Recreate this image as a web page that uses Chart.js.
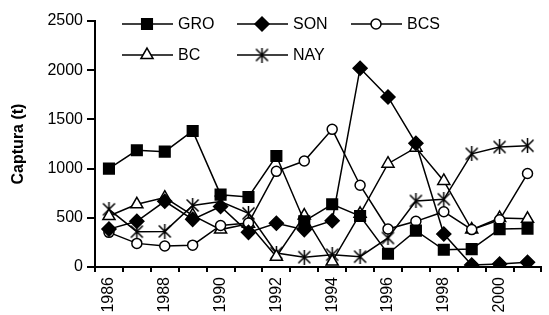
<!DOCTYPE html>
<html>
<head>
<meta charset="utf-8">
<script src="https://cdn.jsdelivr.net/npm/chart.js@4/dist/chart.umd.min.js"></script>
<style>
  html, body { margin: 0; padding: 0; background: #fff; overflow: hidden; }
  #wrap { position: absolute; left: 0; top: 0; width: 552px; height: 335px; }
</style>
</head>
<body>
<div id="wrap"><canvas id="captura"></canvas></div>
<script>
// years on the x axis
const years = ['1986', '1987', '1988', '1989', '1990', '1991', '1992', '1993',
               '1994', '1995', '1996', '1997', '1998', '1999', '2000', '2001'];

// capture (t) by state
const gro = [1000, 1186, 1172, 1382, 735, 712, 1128, 465, 637, 518, 135, 370, 175, 182, 385, 390];
const son = [385, 465, 668, 484, 615, 352, 444, 380, 470, 2020, 1728, 1257, 335, 20, 30, 48];
const bcs = [352, 240, 213, 222, 422, 447, 972, 1077, 1399, 831, 386, 464, 562, 380, 480, 950];
const bc  = [518, 637, 705, 525, 380, 440, 105, 523, 55, 540, 1050, 1213, 874, 380, 497, 490];
const nay = [586, 359, 362, 625, 665, 545, 142, 100, 125, 105, 295, 671, 688, 1150, 1220, 1232];

const yTicks = [0, 500, 1000, 1500, 2000, 2500];

const FONT = "'Liberation Sans', Arial, sans-serif";

// excel style asterisk: an X plus a vertical bar
function makeStar() {
    const c = document.createElement('canvas');
    c.width = 15; c.height = 15;
    const g = c.getContext('2d');
    g.strokeStyle = '#000';
    g.lineWidth = 1.5;
    g.beginPath();
    g.moveTo(1.5, 1.5); g.lineTo(13.5, 13.5);
    g.moveTo(13.5, 1.5); g.lineTo(1.5, 13.5);
    g.moveTo(7.5, 0); g.lineTo(7.5, 15);
    g.stroke();
    return c;
}
const star = makeStar();

function series(label, data, style, radius, filled) {
    return {
        label: label,
        data: data,
        borderColor: '#000',
        borderWidth: 1.5,
        tension: 0,
        pointStyle: style,
        pointRadius: radius,
        pointHoverRadius: radius,
        pointBorderColor: '#000',
        pointBorderWidth: 1.5,
        pointBackgroundColor: filled ? '#000' : '#fff'
    };
}

// legend: line + marker + label, laid out in two rows of three
const lineLegend = {
    id: 'lineLegend',
    afterDatasetsDraw(chart) {
        const ctx = chart.ctx;
        const cols = [122, 237, 351];
        const rows = [24, 55];
        ctx.save();
        chart.data.datasets.forEach((ds, i) => {
            const x0 = cols[i % 3];
            const y = rows[Math.floor(i / 3)];
            ctx.strokeStyle = '#000';
            ctx.lineWidth = 1.5;
            ctx.beginPath();
            ctx.moveTo(x0, y);
            ctx.lineTo(x0 + 51, y);
            ctx.stroke();
            ctx.fillStyle = ds.pointBackgroundColor;
            ctx.strokeStyle = '#000';
            Chart.helpers.drawPoint(ctx, {
                pointStyle: ds.pointStyle,
                radius: ds.pointRadius,
                borderWidth: 1.5,
                rotation: 0
            }, x0 + 25, y);
            ctx.fillStyle = '#000';
            ctx.font = '16px ' + FONT;
            ctx.textBaseline = 'middle';
            ctx.textAlign = 'left';
            ctx.fillText(ds.label, x0 + 56, y + 1);
        });
        ctx.restore();
    }
};

window.addEventListener('load', () => {

    const ctx = document.getElementById('captura');

    new Chart(ctx, {
        type: 'line',
        data: {
            labels: years,
            datasets: [
                series('GRO', gro, 'rect', 7.5, true),
                series('SON', son, 'rectRot', 7, true),
                series('BCS', bcs, 'circle', 5, false),
                series('BC', bc, 'triangle', 7, false),
                series('NAY', nay, star, 7, false)
            ]
        },
        options: {
            responsive: true,
            maintainAspectRatio: false,
            animation: false,
            events: [],
            layout: {
                padding: { top: 21, left: 0, right: 0, bottom: 0 }
            },
            elements: { line: { fill: false } },
            scales: {
                x: {
                    type: 'category',
                    offset: true,
                    grid: {
                        offset: true,
                        drawOnChartArea: false,
                        drawTicks: true,
                        tickLength: 5,
                        color: '#000',
                        lineWidth: 2
                    },
                    border: { display: true, color: '#000', width: 2 },
                    ticks: {
                        autoSkip: false,
                        maxRotation: 90,
                        minRotation: 90,
                        padding: 5,
                        color: '#000',
                        font: { family: FONT, size: 16 },
                        callback: (v, i) => (i % 2 === 0 ? years[i] : '')
                    },
                    afterFit: (s) => { s.height = 68; }
                },
                y: {
                    min: 0,
                    max: 2500,
                    afterBuildTicks: (s) => { s.ticks = yTicks.map(v => ({ value: v })); },
                    grid: {
                        drawOnChartArea: false,
                        drawTicks: true,
                        tickLength: 8,
                        color: '#000',
                        lineWidth: 2
                    },
                    border: { display: true, color: '#000', width: 2 },
                    ticks: {
                        padding: 4,
                        color: '#000',
                        font: { family: FONT, size: 16 },
                        callback: (v) => String(v)
                    },
                    title: {
                        display: true,
                        text: 'Captura (t)',
                        color: '#000',
                        padding: { top: 9, bottom: 0 },
                        font: { family: FONT, size: 16, weight: 'bold' }
                    },
                    afterFit: (s) => { s.width = 95; }
                }
            },
            plugins: {
                legend: { display: false },
                tooltip: { enabled: false }
            }
        },
        plugins: [lineLegend]
    });

});
</script>
</body>
</html>
